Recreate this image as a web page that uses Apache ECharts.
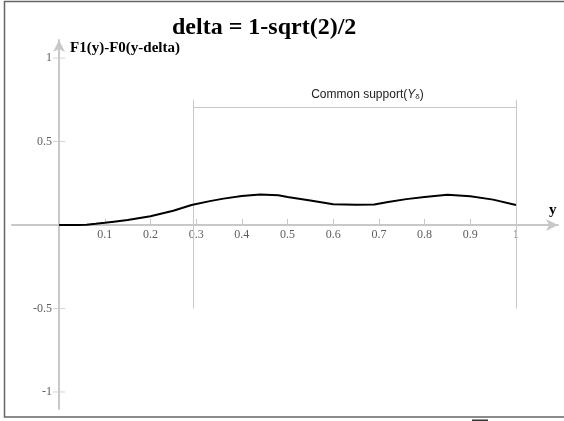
<!DOCTYPE html>
<html>
<head>
<meta charset="utf-8">
<script src="https://cdn.jsdelivr.net/npm/echarts@6/dist/echarts.min.js"></script>
<style>
  html, body { margin: 0; padding: 0; background: #fff; }
  #chart { width: 564px; height: 421px; }
</style>
</head>
<body>
<div id="chart"></div>
<script>
// F1(y) - F0(y - delta), sampled along y in [0, 1]
const yValues = [0, 0.02, 0.04, 0.06, 0.08, 0.1, 0.12, 0.15, 0.2, 0.25, 0.29, 0.33, 0.36, 0.4, 0.44, 0.48, 0.5, 0.55, 0.6, 0.65, 0.69, 0.72, 0.76, 0.8, 0.85, 0.9, 0.95, 1];
const diffValues = [0, 0, 0, 0.002, 0.007, 0.013, 0.02, 0.03, 0.052, 0.085, 0.12, 0.143, 0.158, 0.173, 0.182, 0.178, 0.168, 0.147, 0.124, 0.122, 0.123, 0.138, 0.155, 0.168, 0.181, 0.172, 0.152, 0.12];

const xTickValues = [0.1, 0.2, 0.3, 0.4, 0.5, 0.6, 0.7, 0.8, 0.9, 1];
const yTickValues = [-1, -0.5, 0.5, 1];

// common support bracket: [delta, 1], drawn at height sqrt(2)/2
const delta = 1 - Math.sqrt(2) / 2;
const supportEnd = 1;
const supportLevel = Math.sqrt(2) / 2;
const supportTop = 0.75;
const supportBottom = -0.5;

const axisGray = '#c8c8c8';
const serif = '"Liberation Serif", "Times New Roman", serif';
const sans = '"Liberation Sans", Arial, sans-serif';
const fmt = v => String(+v.toFixed(2));

// the axes cross at the origin; tick labels sit next to the crossing axis lines
const labelStyle = { fontFamily: serif, fontSize: 12, color: '#333' };

const chart = echarts.init(document.getElementById('chart'));
chart.setOption({
  animation: false,
  backgroundColor: '#fff',
  title: {
    text: 'delta = 1-sqrt(2)/2',
    left: 167,
    top: 11,
    textStyle: { fontFamily: serif, fontWeight: 'bold', fontSize: 24, color: '#000' }
  },
  grid: { left: 12, top: 40, width: 546, height: 369, containLabel: false, outerBoundsMode: 'none' },
  xAxis: {
    type: 'value',
    min: -0.103,
    max: 1.092,
    splitLine: { show: false },
    axisLine: {
      onZero: true,
      symbol: ['none', 'arrow'],
      symbolSize: [9, 12],
      lineStyle: { color: axisGray, width: 2 }
    },
    axisTick: {
      customValues: xTickValues,
      inside: true,
      length: 6,
      lineStyle: { color: axisGray, width: 1 }
    },
    axisLabel: { show: false }
  },
  yAxis: {
    type: 'value',
    min: -1.102,
    max: 1.108,
    splitLine: { show: false },
    axisLine: {
      onZero: true,
      symbol: ['none', 'arrow'],
      symbolSize: [9, 12],
      lineStyle: { color: axisGray, width: 2 }
    },
    axisTick: { show: false },
    axisLabel: { show: false }
  },
  graphic: [
    {
      type: 'rect',
      silent: true,
      shape: { x: 4.5, y: 1.5, width: 600, height: 415.5 },
      style: { fill: 'none', stroke: '#666', lineWidth: 1.5 }
    },
    {
      type: 'rect',
      silent: true,
      shape: { x: 472, y: 419.5, width: 16, height: 1.5 },
      style: { fill: '#333' }
    },
    {
      type: 'text',
      left: 70,
      top: 41,
      style: { text: 'F1(y)-F0(y-delta)', fontFamily: serif, fontWeight: 'bold', fontSize: 15, fill: '#000' }
    },
    {
      type: 'text',
      left: 549,
      top: 203,
      style: { text: 'y', fontFamily: serif, fontWeight: 'bold', fontSize: 15, fill: '#000' }
    }
  ],
  series: [
    {
      // x tick labels along the horizontal axis line
      type: 'scatter',
      silent: true,
      symbolSize: 0,
      data: xTickValues.map(v => [v, 0]),
      label: { show: true, position: 'bottom', distance: 4, formatter: p => fmt(p.value[0]), ...labelStyle },
      z: 3
    },
    {
      // y ticks (crossing the vertical axis) with their labels
      type: 'scatter',
      silent: true,
      symbol: 'rect',
      symbolSize: [12, 1],
      itemStyle: { color: axisGray },
      data: yTickValues.map(v => [0, v]),
      label: { show: true, position: 'left', distance: 1, formatter: p => fmt(p.value[1]), ...labelStyle },
      z: 3
    },
    {
      type: 'line',
      data: yValues.map((x, i) => [x, diffValues[i]]),
      showSymbol: false,
      lineStyle: { color: '#000', width: 2 },
      z: 5,
      markLine: {
        silent: true,
        symbol: 'none',
        animation: false,
        lineStyle: { color: axisGray, width: 1, type: 'solid' },
        label: { show: false },
        data: [
          [{ coord: [delta, supportBottom] }, { coord: [delta, supportTop] }],
          [{ coord: [supportEnd, supportBottom] }, { coord: [supportEnd, supportTop] }],
          [
            {
              coord: [delta, supportLevel],
              label: {
                show: true,
                position: 'middle',
                distance: 6,
                offset: [13, 0],
                formatter: '{a|Common support(}{i|Y}{s|δ}{a|)}',
                rich: {
                  a: { fontFamily: sans, fontSize: 12, color: '#222' },
                  i: { fontFamily: sans, fontSize: 12, fontStyle: 'italic', color: '#222' },
                  s: { fontFamily: sans, fontSize: 8, color: '#222', padding: [5, 0, 0, 0] }
                }
              }
            },
            { coord: [supportEnd, supportLevel] }
          ]
        ]
      }
    }
  ]
});
</script>
</body>
</html>
